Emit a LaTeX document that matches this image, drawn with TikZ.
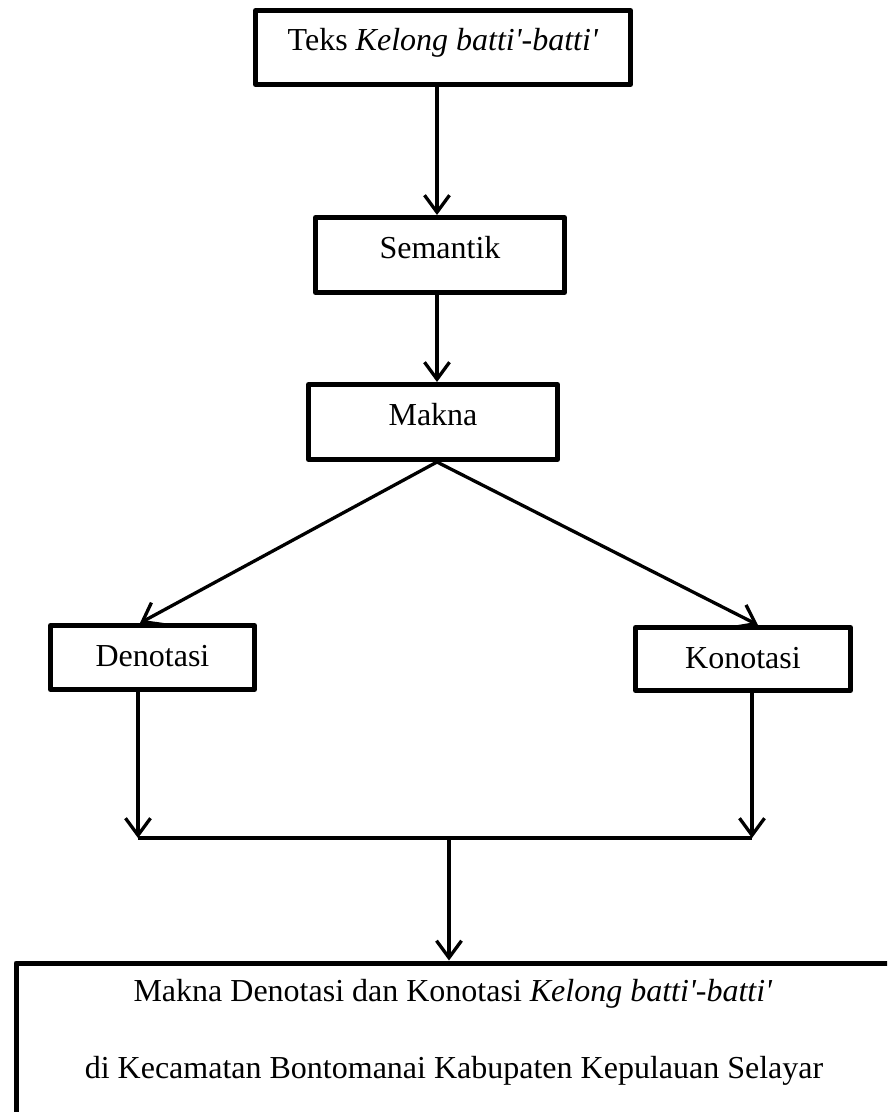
\documentclass[tikz,border=0pt]{standalone}
\usepackage{fontspec}
\setmainfont{Liberation Serif}
\usetikzlibrary{arrows.meta}
\newcommand{\kelong}{\textit{Kelong batti\textquotesingle-batti\textquotesingle}}

\begin{document}
\begin{tikzpicture}[x=1pt,y=-1pt,
                    font=\fontsize{32}{38}\selectfont,
                    kotak/.style={draw,line width=5pt,line join=round,inner sep=0pt,text height=23pt,text depth=17pt},
                    panah/.style={line width=3.3pt,-{Straight Barb[length=17pt,width=25pt,line width=3.3pt]}}]
    \clip (0,0) rectangle (887,1112);
    \node[kotak,minimum width=375pt,minimum height=74pt,text depth=18pt] (teks) at (443,47.5) {Teks \kelong};
    \node[kotak,minimum width=249pt,minimum height=75pt] (semantik) at (440,255) {Semantik};
    \node[kotak,minimum width=249pt,minimum height=75pt] (makna) at (433,422) {Makna};
    \node[kotak,minimum width=204pt,minimum height=64pt,text depth=6pt] (denotasi) at (152.5,657.5) {Denotasi};
    \node[kotak,minimum width=215pt,minimum height=63pt,text depth=5pt] (konotasi) at (743,659) {Konotasi};
    \node[kotak,minimum width=900pt,minimum height=180pt,anchor=north west] (hasil) at (13.5,960.5) {};
    \node[anchor=base] (hasil1) at (453,1001) {Makna Denotasi dan Konotasi \kelong};
    \node[anchor=base] (hasil2) at (454,1078) {di Kecamatan Bontomanai Kabupaten Kepulauan Selayar};

    \coordinate (poros) at (437,0);
    \coordinate (kiri) at (138,838);
    \coordinate (kanan) at (752,838);
    \coordinate (tengah) at (449,838);

    \draw[panah] (poros |- teks.south) -- (poros |- semantik.north);
    \draw[panah] (poros |- semantik.south) -- (poros |- makna.north);
    \draw[panah] (poros |- makna.south) -- (140,623);
    \draw[panah] (poros |- makna.south) -- (758,625);
    \draw[panah] (kiri |- denotasi.south) -- (kiri);
    \draw[panah] (kanan |- konotasi.south) -- (kanan);
    \draw[line width=4pt] (kiri) -- (kanan);
    \draw[panah] (tengah) -- (tengah |- hasil.north);
\end{tikzpicture}
\end{document}
